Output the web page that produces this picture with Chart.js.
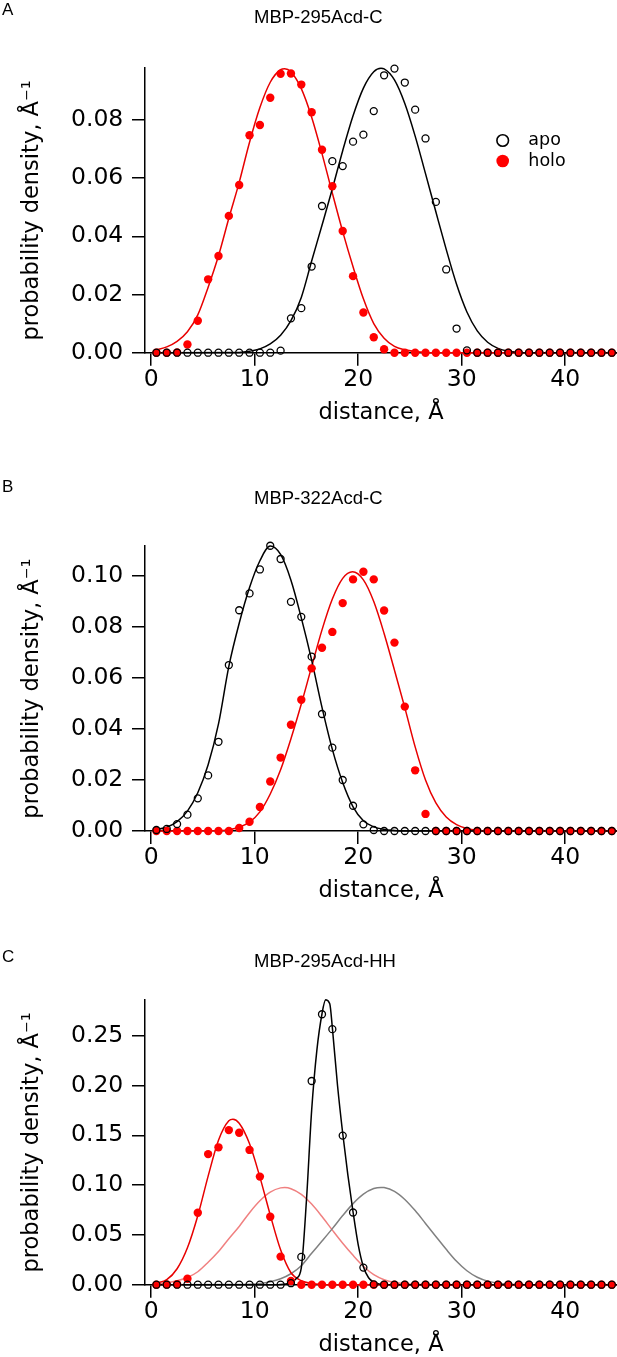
<!DOCTYPE html>
<html><head><meta charset="utf-8">
<script src="https://cdn.jsdelivr.net/npm/chart.js@4.4.1/dist/chart.umd.min.js"></script>
<style>
html,body{margin:0;padding:0;background:#fff;}
body{width:617px;height:1357px;position:relative;overflow:hidden;}
canvas{position:absolute;left:0;}
.lbl{position:absolute;font-family:"Liberation Sans",Arial,sans-serif;color:#000;line-height:20px;white-space:nowrap;}
</style></head><body>
<canvas id="cA" width="617" height="440" style="top:0px;width:617px;height:440px"></canvas>
<canvas id="cB" width="617" height="470" style="top:440px;width:617px;height:470px"></canvas>
<canvas id="cC" width="617" height="447" style="top:910px;width:617px;height:447px"></canvas>
<div class="lbl" style="left:2px;top:0px;font-size:17px">A</div>
<div class="lbl" style="left:254px;top:7px;font-size:18.5px">MBP-295Acd-C</div>
<div class="lbl" style="left:2px;top:477px;font-size:17px">B</div>
<div class="lbl" style="left:254px;top:488px;font-size:18.5px">MBP-322Acd-C</div>
<div class="lbl" style="left:2px;top:947px;font-size:17px">C</div>
<div class="lbl" style="left:254px;top:951px;font-size:18.5px">MBP-295Acd-HH</div>
<script>
// ---------- data ----------
const distances = [0.5,1.5,2.5,3.5,4.5,5.5,6.5,7.5,8.5,9.5,10.5,11.5,12.5,13.5,14.5,15.5,16.5,17.5,18.5,19.5,20.5,21.5,22.5,23.5,24.5,25.5,26.5,27.5,28.5,29.5,30.5,31.5,32.5,33.5,34.5,35.5,36.5,37.5,38.5,39.5,40.5,41.5,42.5,43.5,44.5];

// Panel A: MBP-295Acd-C
const apoA = [0,0,0,0,0,0,0,0,0,0,0,0,0.0007,0.0118,0.0153,0.0296,0.0504,0.0658,0.0641,0.0725,0.0749,0.0830,0.0953,0.0976,0.0928,0.0835,0.0736,0.0518,0.0286,0.0083,0.0008,0,0,0,0,0,0,0,0,0,0,0,0,0,0];
const holoA = [0,0,0.0001,0.0028,0.0110,0.0252,0.0332,0.0470,0.0576,0.0747,0.0782,0.0876,0.0958,0.0959,0.0921,0.0826,0.0697,0.0572,0.0418,0.0263,0.0138,0.0053,0.0012,0,0,0,0,0,0,0,0,0,0,0,0,0,0,0,0,0,0,0,0,0,0];
const fitHoloA_x = [0.5,1.5,2.5,3.5,4.5,5.5,6.5,7.5,8.5,9.5,10.5,11.5,12.5,12.9,13.5,14.5,15.5,16.5,17.5,18.5,19.5,20.5,21.5,22.5,23.5,24.5,25.5,26.5,28.5,45];
const fitHoloA_y = [0.0010,0.0020,0.0039,0.0072,0.0130,0.0225,0.0333,0.0462,0.0585,0.0723,0.0842,0.0929,0.0972,0.0975,0.0964,0.0907,0.0809,0.0684,0.0548,0.0416,0.0295,0.0185,0.0100,0.0050,0.0022,0.0010,0.0004,0.0001,0,0];
const fitApoA_x = [0.5,8.5,9.5,10.5,11.5,12.5,13.5,14.5,15.5,16.5,17.5,18.5,19.5,20.5,21.5,22.2,22.5,23.5,24.5,25.5,26.5,27.5,28.5,29.5,30.5,31.5,32.5,33.5,34.5,35.5,36.5,45];
const fitApoA_y = [0,0.0001,0.0005,0.0013,0.0030,0.0060,0.0110,0.0190,0.0315,0.0438,0.0563,0.0694,0.0814,0.0909,0.0965,0.0977,0.0975,0.0937,0.0856,0.0744,0.0615,0.0484,0.0355,0.0235,0.0140,0.0075,0.0036,0.0015,0.0005,0.0001,0,0];

// Panel B: MBP-322Acd-C
const apoB = [0.0004,0.0008,0.0027,0.0064,0.0128,0.0218,0.0350,0.0651,0.0866,0.0932,0.1026,0.1119,0.1067,0.0899,0.0840,0.0684,0.0459,0.0327,0.0200,0.0099,0.0026,0.0004,0,0,0,0,0,0,0,0,0,0,0,0,0,0,0,0,0,0,0,0,0,0,0];
const holoB = [0,0,0,0,0,0,0,0,0.0012,0.0036,0.0094,0.0194,0.0288,0.0417,0.0515,0.0638,0.0719,0.0781,0.0894,0.0987,0.1017,0.0987,0.0865,0.0739,0.0488,0.0238,0.0067,0,0,0,0,0,0,0,0,0,0,0,0,0,0,0,0,0,0];
const fitApoB_x = [0.5,1.5,2.5,3.5,4.5,5.5,6.5,7.5,8.5,9.5,10.5,11.5,12.5,13.5,14.5,15.5,16.5,17.5,18.5,19.5,20.5,21.5,22.5,23.5,24.5,45];
const fitApoB_y = [0.0006,0.0015,0.0037,0.0078,0.0150,0.0260,0.0420,0.0646,0.0815,0.0955,0.1060,0.1118,0.1085,0.0984,0.0836,0.0670,0.0485,0.0320,0.0190,0.0095,0.0040,0.0016,0.0006,0.0002,0,0];
const fitHoloB_x = [0.5,6.5,7.5,8.5,9.5,10.5,11.5,12.5,13.5,14.5,15.5,16.5,17.5,18.5,19.45,20.5,21.5,22.5,23.5,24.5,25.5,26.5,27.5,28.5,29.5,30.5,31.5,32.5,45];
const fitHoloB_y = [0,0.0001,0.0005,0.0015,0.0035,0.0075,0.0145,0.0240,0.0362,0.0498,0.0645,0.0789,0.0910,0.0991,0.1017,0.0985,0.0900,0.0775,0.0631,0.0484,0.0330,0.0200,0.0110,0.0055,0.0025,0.0010,0.0003,0,0];

// Panel C: MBP-295Acd-HH
const apoC = [0,0,0,0,0,0,0,0,0,0,0,0,0,0.0015,0.0279,0.2045,0.2715,0.2565,0.1497,0.0725,0.0172,0.0003,0,0,0,0,0,0,0,0,0,0,0,0,0,0,0,0,0,0,0,0,0,0,0];
const holoC = [0,0.0002,0.0005,0.0060,0.0723,0.1311,0.1379,0.1552,0.1526,0.1353,0.1085,0.0682,0.0282,0.0037,0,0,0,0,0,0,0,0,0,0,0,0,0,0,0,0,0,0,0,0,0,0,0,0,0,0,0,0,0,0,0];
const fitApoC_x = [0.5,12.0,12.5,13.0,13.5,14.0,14.5,15.0,15.5,16.0,16.5,16.85,17.25,17.5,18.0,18.5,19.0,19.5,20.0,20.5,21.0,21.5,22.0,22.5,23.0,45];
const fitApoC_y = [0,0,0.0002,0.0008,0.0020,0.0060,0.0170,0.0850,0.1750,0.2350,0.2720,0.2860,0.2820,0.2580,0.2000,0.1520,0.1100,0.0730,0.0400,0.0180,0.0070,0.0025,0.0008,0.0002,0,0];
const fitHoloC_x = [0.5,1.5,2.5,3.5,4.5,5.5,6.5,7.5,7.9,8.5,9.5,10.5,11.5,12.5,13.5,14.5,15.5,16.5,17.5,45];
const fitHoloC_y = [0.0015,0.0050,0.0160,0.0370,0.0692,0.1090,0.1450,0.1645,0.1660,0.1620,0.1414,0.1080,0.0700,0.0350,0.0120,0.0040,0.0012,0.0003,0,0];

// axes
const ticksX = [0,10,20,30,40];
const ticksYA = [0,0.02,0.04,0.06,0.08];
const ticksYB = [0,0.02,0.04,0.06,0.08,0.10];
const ticksYC = [0,0.05,0.10,0.15,0.20,0.25];
const xMin = -0.6, xMax = 45;
const yMaxA = 0.0978, yMaxB = 0.1118, yMaxC = 0.2858;
const legendLabels = ['apo','holo'];
const xTitle = 'distance, Å';
const yTitle = 'probability density, Å⁻¹';

// ---------- styling ----------
const FONT = '"DejaVu Sans", sans-serif';
const RED = '#ff0000';
const RED_LINE = '#e80000';
const LIGHT_RED = '#f08080';
const GREY = '#808080';
Chart.defaults.font.family = FONT;

function pts(xs, ys){ return xs.map((x,i)=>({x:x, y:ys[i]})); }
function apoPoints(ys){
  return {type:'scatter', data:pts(distances, ys), order:1, clip:false, showLine:false,
    pointStyle:'circle', pointRadius:3.5, pointHoverRadius:3.5, pointBorderWidth:1.3,
    pointBorderColor:'#000', pointBackgroundColor:'rgba(0,0,0,0)'};
}
function holoPoints(ys){
  return {type:'scatter', data:pts(distances, ys), order:2, clip:false, showLine:false,
    pointStyle:'circle', pointRadius:4.2, pointHoverRadius:4.2, pointBorderWidth:0,
    pointBorderColor:RED, pointBackgroundColor:RED};
}
function curve(xs, ys, color, order){
  return {type:'line', data:pts(xs, ys), order:order, borderColor:color, borderWidth:1.5,
    pointRadius:0, fill:false, cubicInterpolationMode:'monotone', clip:false};
}

const legendPlugin = {
  id:'panelLegend',
  afterDatasetsDraw(chart){
    const ctx = chart.ctx;
    ctx.save();
    ctx.beginPath(); ctx.arc(502.7, 140.5, 5.8, 0, Math.PI*2);
    ctx.lineWidth = 1.6; ctx.strokeStyle = '#000'; ctx.stroke();
    ctx.beginPath(); ctx.arc(502.7, 161, 6.3, 0, Math.PI*2);
    ctx.fillStyle = RED; ctx.fill();
    ctx.font = '17.5px ' + FONT; ctx.fillStyle = '#000';
    ctx.textAlign = 'left'; ctx.textBaseline = 'middle';
    ctx.fillText(legendLabels[0], 528.3, 140.3);
    ctx.fillText(legendLabels[1], 528.3, 161.3);
    ctx.restore();
  }
};

function makeChart(id, H, areaTop, areaBottom, titlePadBottom, yMax, yTicks, datasets, plugins){
  const grid = {drawOnChartArea:false, drawTicks:true, tickLength:13, color:'#000', lineWidth:1.5};
  const border = {display:true, color:'#000', width:1.5};
  return new Chart(document.getElementById(id), {
    type:'scatter',
    data:{datasets:datasets},
    options:{
      responsive:false, animation:false, events:[],
      layout:{padding:{top:areaTop, left:0, right:0, bottom:0}, autoPadding:false},
      plugins:{legend:{display:false}, tooltip:{enabled:false}},
      scales:{
        x:{type:'linear', position:'bottom', min:xMin, max:xMax,
          afterBuildTicks:s=>{ s.ticks = ticksX.map(v=>({value:v})); },
          afterFit:s=>{ s.height = H - areaBottom; s.paddingLeft = 0; s.paddingRight = 0; },
          grid:grid, border:border,
          ticks:{font:{family:FONT, size:23.5}, color:'#000', padding:0.2, maxRotation:0, autoSkip:false,
                 callback:v=>String(v)},
          title:{display:true, text:xTitle, color:'#000', font:{family:FONT, size:22.5, lineHeight:1},
                 padding:{top:0, bottom:titlePadBottom}}
        },
        y:{type:'linear', position:'left', min:0, max:yMax,
          afterBuildTicks:s=>{ s.ticks = yTicks.map(v=>({value:v})); },
          afterFit:s=>{ s.width = 145; s.paddingTop = 0; s.paddingBottom = 0; },
          grid:grid, border:border,
          ticks:{font:{family:FONT, size:23.5}, color:'#000', padding:8.7, autoSkip:false,
                 callback:v=>Number(v).toFixed(2)},
          title:{display:true, text:yTitle, color:'#000', font:{family:FONT, size:22.5, lineHeight:1},
                 padding:{top:20.75, bottom:0}}
        }
      }
    },
    plugins:plugins || []
  });
}

makeChart('cA', 440, 68, 352.7, 16.05, yMaxA, ticksYA, [
  apoPoints(apoA), holoPoints(holoA),
  curve(fitApoA_x, fitApoA_y, '#000', 3),
  curve(fitHoloA_x, fitHoloA_y, RED_LINE, 4)
], [legendPlugin]);

makeChart('cB', 470, 106, 391, 7.75, yMaxB, ticksYB, [
  apoPoints(apoB), holoPoints(holoB),
  curve(fitApoB_x, fitApoB_y, '#000', 3),
  curve(fitHoloB_x, fitHoloB_y, RED_LINE, 4)
]);

makeChart('cC', 447, 90, 374.7, 1.05, yMaxC, ticksYC, [
  apoPoints(apoC), holoPoints(holoC),
  curve(fitApoC_x, fitApoC_y, '#000', 3),
  curve(fitHoloC_x, fitHoloC_y, RED_LINE, 4),
  curve(fitApoA_x, fitApoA_y, GREY, 5),
  curve(fitHoloA_x, fitHoloA_y, LIGHT_RED, 6)
]);
</script>
</body></html>
